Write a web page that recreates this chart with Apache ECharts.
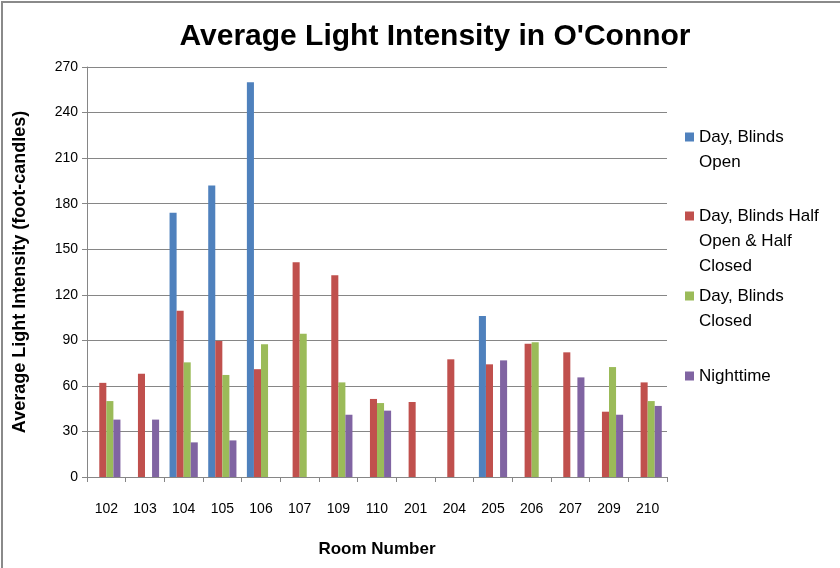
<!DOCTYPE html>
<html><head><meta charset="utf-8">
<script src="https://cdn.jsdelivr.net/npm/echarts@6/dist/echarts.min.js"></script>
<style>html,body{margin:0;padding:0;background:#fff}#c{width:840px;height:568px}</style>
</head><body><div id="c"></div>
<script>
var rooms = ['102','103','104','105','106','107','109','110','201','204','205','206','207','209','210'];
var blindsOpen   = [null, null, 174, 192, 260, null, null, null, null, null, 106, null, null, null, null];
var blindsHalf   = [62, 68, 109.5, 89.6, 71, 141.4, 132.8, 51.4, 49.4, 77.5, 74.2, 87.8, 82.1, 43, 62.3];
var blindsClosed = [50, null, 75.5, 67.2, 87.4, 94.4, 62.3, 48.7, null, null, null, 88.7, null, 72.4, 50];
var nighttime    = [37.8, 37.8, 22.8, 24.1, null, null, 41, 43.7, null, null, 76.8, null, 65.6, 41, 46.8];
var seriesNames = ['Day, Blinds Open', 'Day, Blinds Half Open & Half Closed', 'Day, Blinds Closed', 'Nighttime'];
var legendLines = [['Day, Blinds','Open'], ['Day, Blinds Half','Open & Half','Closed'], ['Day, Blinds','Closed'], ['Nighttime']];
var colors = ['#4F81BD', '#C0504D', '#9BBB59', '#8064A2'];
var values = [blindsOpen, blindsHalf, blindsClosed, nighttime];

var FONT = 'Liberation Sans';
var L = 25;
var iconY = [137, 216, 296, 376];

var chart = echarts.init(document.getElementById('c'));
var legends = seriesNames.map(function (name, i) {
  var n = legendLines[i].length;
  var blanks = new Array(n).join('\n');
  return {
    data: [name],
    left: 685,
    top: iconY[i] - (2 * n - 1) * L / 2,
    padding: 0,
    itemWidth: 9, itemHeight: 9, itemGap: 0,
    icon: 'rect',
    selectedMode: false,
    formatter: function () { return blanks + legendLines[i].join('\n'); },
    textStyle: { fontFamily: FONT, fontSize: 17, color: '#000', lineHeight: L }
  };
});

chart.setOption({
  animation: false,
  color: colors,
  title: {
    text: "Average Light Intensity in O'Connor",
    left: 430, top: 17, textAlign: 'center',
    textStyle: { fontFamily: FONT, fontSize: 30, fontWeight: 'bold', color: '#000' }
  },
  graphic: [{ type: 'rect', shape: { x: 2, y: 2, width: 850, height: 580 }, style: { fill: 'none', stroke: '#8a8a8a', lineWidth: 2 }, silent: true }],
  legend: legends,
  grid: { left: 87, right: 173, top: 67, bottom: 91 },
  xAxis: {
    type: 'category', data: rooms,
    name: 'Room Number', nameLocation: 'middle', nameGap: 64,
    nameTextStyle: { fontFamily: FONT, fontSize: 17, fontWeight: 'bold', color: '#000' },
    axisLine: { lineStyle: { color: '#868686' } },
    axisTick: { show: true, alignWithLabel: false, length: 5, lineStyle: { color: '#868686' } },
    axisLabel: { fontFamily: FONT, fontSize: 14, color: '#000', margin: 25 }
  },
  yAxis: {
    type: 'value', min: 0, max: 270, interval: 30,
    name: 'Average Light Intensity (foot-candles)', nameLocation: 'middle', nameGap: 58, nameRotate: 90,
    nameTextStyle: { fontFamily: FONT, fontSize: 18, fontWeight: 'bold', color: '#000' },
    axisLine: { show: true, lineStyle: { color: '#868686' } },
    axisTick: { show: true, length: 5, lineStyle: { color: '#868686' } },
    axisLabel: { fontFamily: FONT, fontSize: 14, color: '#000', margin: 9 },
    splitLine: { lineStyle: { color: '#868686' } }
  },
  series: seriesNames.map(function (name, i) {
    return { name: name, type: 'bar', data: values[i], barGap: '0%', barCategoryGap: '27%',
      itemStyle: { color: colors[i] } };
  })
});
</script></body></html>
